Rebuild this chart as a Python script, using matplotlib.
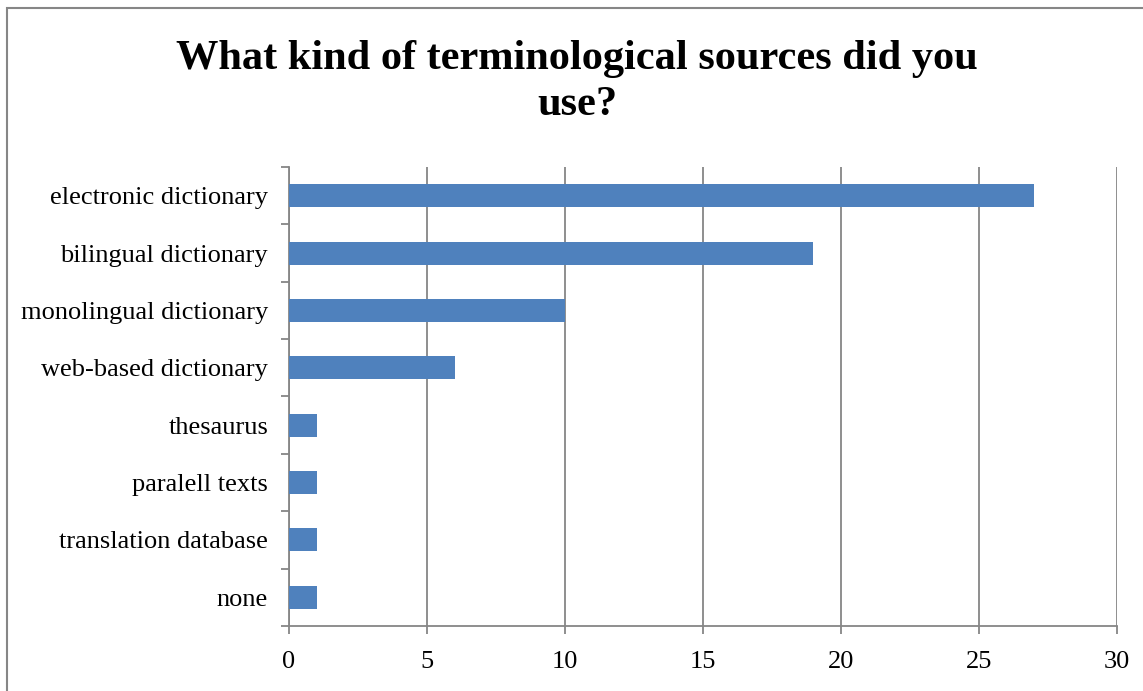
import matplotlib.pyplot as plt
import matplotlib.patches as mpatches
import numpy as np

categories = ["electronic dictionary", "bilingual dictionary", "monolingual dictionary",
              "web-based dictionary", "thesaurus", "paralell texts",
              "translation database", "none"]
counts = [27, 19, 10, 6, 1, 1, 1, 1]
xticks = [0, 5, 10, 15, 20, 25, 30]

plt.rcParams['font.family'] = ['Liberation Serif', 'DejaVu Serif']

fig = plt.figure(figsize=(11.43, 6.91), dpi=100)
ax = fig.add_axes([0.2528, 0.0941, 0.7245, 0.6642])

ind = np.arange(len(categories))
ax.barh(ind, counts, height=0.4, color='#4F81BD', zorder=3)
ax.set_ylim(len(categories) - 0.5, -0.5)
ax.set_xlim(0, 30)

grid_col = '#868686'
ax.set_xticks(xticks)
ax.set_xticklabels([str(t) for t in xticks], fontsize=19)
ax.xaxis.grid(True, color=grid_col, linewidth=1.3, zorder=0)
ax.tick_params(axis='x', length=6, width=1.3, color=grid_col, pad=12)

# category labels sit between the boundary ticks
ax.set_yticks(ind)
ax.set_yticklabels(categories, fontsize=19)
ax.tick_params(axis='y', which='major', length=0, pad=15)
ax.set_yticks(np.arange(len(categories) + 1) - 0.5, minor=True)
ax.tick_params(axis='y', which='minor', length=6, width=1.3, color=grid_col)

for side in ['top', 'right']:
    ax.spines[side].set_visible(False)
for side in ['left', 'bottom']:
    ax.spines[side].set_color(grid_col)
    ax.spines[side].set_linewidth(1.3)

fig.text(0.505, 0.881, "What kind of terminological sources did you\nuse?",
         ha='center', va='center', fontsize=30.5, fontweight='bold', linespacing=1.26)

# outer chart frame
fig.patches.append(mpatches.Rectangle((7 / 1143, -0.1), 1.2, 1 - 8 / 691 + 0.1,
                                      transform=fig.transFigure, fill=False,
                                      edgecolor=grid_col, linewidth=1.5))

fig.savefig("out.png", dpi=100)
